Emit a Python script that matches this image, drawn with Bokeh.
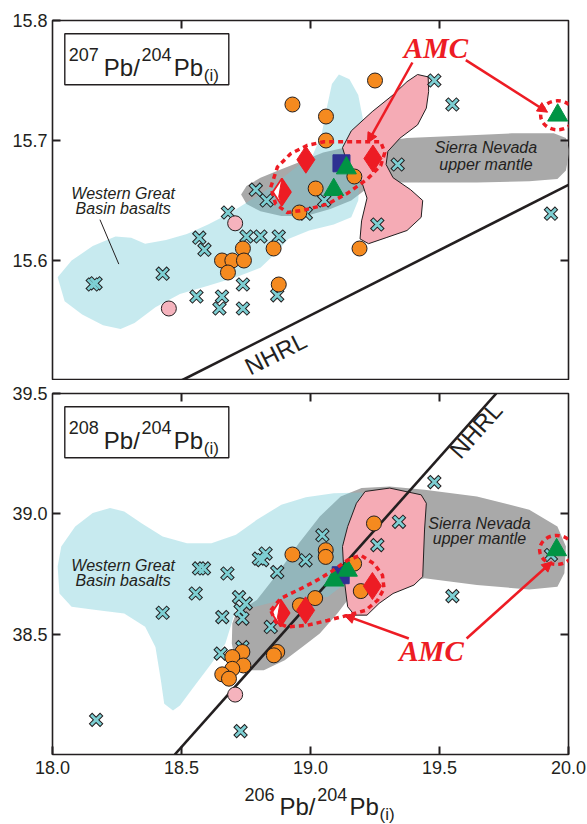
import math
from bokeh.plotting import figure
from bokeh.layouts import column
from bokeh.models import (Label, Arrow, NormalHead, BoxAnnotation, FixedTicker,
                          LinearAxis, NumeralTickFormatter, Range1d)
from bokeh.embed import file_html
from bokeh.resources import INLINE

# ------------------------------------------------------------------ data
x_ticks = [18.0, 18.5, 19.0, 19.5, 20.0]
top_y_ticks = [15.6, 15.7, 15.8]
bot_y_ticks = [38.5, 39.0, 39.5]

# ---- 207Pb/204Pb panel
top_circ_x = [19.25, 18.93, 19.06, 19.06, 19.17, 19.02, 18.957, 19.19, 18.738, 18.857, 18.657, 18.697, 18.742, 18.68, 18.877]
top_circ_y = [15.750, 15.730, 15.720, 15.700, 15.670, 15.660, 15.640, 15.610, 15.610, 15.610, 15.600, 15.600, 15.600, 15.590, 15.580]
top_pink_x = [18.708, 18.451]
top_pink_y = [15.631, 15.560]
top_cross_x = [19.48, 19.55, 19.338, 18.788, 18.83, 19.053, 18.982, 18.68, 19.259, 18.569, 18.589, 18.752,
               18.806, 18.877, 18.156, 18.167, 18.427, 18.558, 18.657, 18.647, 18.738, 18.738, 18.871, 19.932]
top_cross_y = [15.750, 15.730, 15.680, 15.659, 15.650, 15.650, 15.639, 15.640, 15.630, 15.619, 15.609, 15.620,
               15.620, 15.620, 15.580, 15.581, 15.589, 15.570, 15.570, 15.560, 15.580, 15.560, 15.571, 15.639]
top_dia_x = [18.982, 19.242]
top_dia_y = [15.684, 15.685]
top_half_x = [18.889]
top_half_y = [15.657]
top_sq_x = [19.12]
top_sq_y = [15.681]
top_tri_x = [19.139, 19.09, 19.958]
top_tri_y = [15.677, 15.659, 15.721]

top_wgb_x = [18.020, 18.074, 18.156, 18.244, 18.305, 18.359, 18.440, 18.521, 18.603, 18.684, 18.765, 18.846, 18.928,
             19.009, 19.043, 19.063, 19.083, 19.110, 19.151, 19.185, 19.205, 19.205, 19.192, 19.185, 19.158, 19.090,
             18.995, 18.914, 18.860, 18.806, 18.711, 18.603, 18.494, 18.399, 18.318, 18.264, 18.196, 18.115, 18.047]
top_wgb_y = [15.586, 15.600, 15.612, 15.620, 15.619, 15.614, 15.617, 15.622, 15.630, 15.639, 15.650, 15.661, 15.675,
             15.688, 15.705, 15.727, 15.747, 15.755, 15.751, 15.738, 15.716, 15.694, 15.672, 15.650, 15.636, 15.630,
             15.625, 15.618, 15.605, 15.594, 15.586, 15.579, 15.572, 15.561, 15.548, 15.543, 15.546, 15.555, 15.566]
top_snm_x = [18.731, 18.752, 18.806, 18.887, 18.968, 19.049, 19.131, 19.239, 19.374, 19.578, 19.781, 19.943, 19.990,
             20.004, 19.990, 19.957, 19.848, 19.645, 19.442, 19.347, 19.293, 19.225, 19.158, 19.077, 18.982, 18.887,
             18.806, 18.752]
top_snm_y = [15.655, 15.662, 15.669, 15.676, 15.683, 15.690, 15.694, 15.698, 15.702, 15.704, 15.706, 15.706, 15.702,
             15.691, 15.675, 15.668, 15.666, 15.665, 15.665, 15.665, 15.666, 15.661, 15.650, 15.643, 15.637, 15.637,
             15.641, 15.647]
top_pinkfield_x = [19.415, 19.456, 19.458, 19.449, 19.415, 19.347, 19.300, 19.293, 19.320, 19.388, 19.435, 19.429,
                   19.374, 19.293, 19.225, 19.192, 19.198, 19.219, 19.198, 19.144, 19.124, 19.158, 19.239, 19.320, 19.374]
top_pinkfield_y = [15.755, 15.753, 15.741, 15.727, 15.713, 15.702, 15.691, 15.680, 15.669, 15.659, 15.650, 15.636,
                   15.625, 15.619, 15.614, 15.618, 15.633, 15.652, 15.666, 15.680, 15.694, 15.708, 15.724, 15.738, 15.749]
top_amc_x = [18.846, 18.872, 18.923, 18.988, 19.052, 19.272, 19.288, 19.272, 19.221, 19.143, 19.066, 18.975, 18.910, 18.865]
top_amc_y = [15.661, 15.678, 15.689, 15.696, 15.699, 15.699, 15.690, 15.679, 15.668, 15.656, 15.647, 15.642, 15.640, 15.647]
top_nhrl_x = [18.5, 20.0]
top_nhrl_y = [15.5, 15.663]
top_leader_x = [18.184, 18.257]
top_leader_y = [15.634, 15.597]
top_arrow_x0 = [19.395, 19.602]
top_arrow_y0 = [15.765, 15.767]
top_arrow_x1 = [19.221, 19.919]
top_arrow_y1 = [15.698, 15.7236]

# ---- 208Pb/204Pb panel
bot_circ_x = [19.246, 18.930, 19.059, 19.059, 19.169, 19.195, 19.018, 18.959, 18.871, 18.858, 18.736, 18.697, 18.740,
              18.697, 18.658, 18.684]
bot_circ_y = [38.960, 38.831, 38.849, 38.821, 38.793, 38.679, 38.650, 38.620, 38.426, 38.412, 38.426, 38.405, 38.370,
              38.356, 38.333, 38.315]
bot_pink_x = [18.708]
bot_pink_y = [38.249]
bot_cross_x = [18.169, 18.729, 18.427, 18.555, 18.568, 18.587, 18.678, 18.723, 18.749, 18.729, 18.736, 18.658, 18.652,
               18.736, 18.800, 18.826, 18.813, 18.871, 18.981, 19.046, 18.846, 19.259, 19.343, 19.480, 19.550, 19.932]
bot_cross_y = [38.144, 38.097, 38.589, 38.669, 38.773, 38.773, 38.752, 38.654, 38.627, 38.599, 38.565, 38.571, 38.419,
               38.446, 38.814, 38.835, 38.808, 38.758, 38.807, 38.911, 38.530, 38.870, 38.967, 39.132, 38.658, 38.829]
bot_dia_x = [18.981, 19.240]
bot_dia_y = [38.599, 38.700]
bot_half_x = [18.884]
bot_half_y = [38.588]
bot_sq_x = [19.117]
bot_sq_y = [38.745]
bot_tri_x = [19.091, 19.143, 19.954]
bot_tri_y = [38.724, 38.765, 38.850]

bot_wgb_x = [18.020, 18.034, 18.088, 18.156, 18.223, 18.278, 18.345, 18.427, 18.521, 18.616, 18.711, 18.792, 18.887,
             18.982, 19.090, 19.198, 19.253, 19.225, 19.117, 19.066, 18.988, 18.884, 18.794, 18.710, 18.670, 18.616,
             18.548, 18.494, 18.467, 18.433, 18.420, 18.399, 18.359, 18.278, 18.169, 18.074, 18.027]
bot_wgb_y = [38.781, 38.864, 38.947, 39.003, 39.024, 39.010, 38.961, 38.906, 38.878, 38.878, 38.913, 38.975, 39.038,
             39.069, 39.086, 39.089, 39.003, 38.725, 38.696, 38.654, 38.654, 38.641, 38.616, 38.599, 38.461, 38.378,
             38.281, 38.204, 38.183, 38.211, 38.308, 38.447, 38.531, 38.586, 38.600, 38.614, 38.669]
bot_snm_x = [18.711, 18.792, 18.873, 18.955, 19.036, 19.117, 19.198, 19.307, 19.442, 19.645, 19.848, 19.957, 19.990,
             19.984, 19.957, 19.848, 19.645, 19.442, 19.307, 19.144, 19.104, 19.036, 18.968, 18.900, 18.819, 18.752,
             18.708, 18.695, 18.697]
bot_snm_y = [38.586, 38.642, 38.753, 38.878, 38.989, 39.072, 39.107, 39.114, 39.100, 39.072, 39.017, 38.947, 38.864,
             38.753, 38.697, 38.686, 38.704, 38.732, 38.697, 38.642, 38.586, 38.503, 38.447, 38.392, 38.350, 38.350,
             38.385, 38.461, 38.544]
bot_pinkfield_x = [19.212, 19.307, 19.429, 19.449, 19.442, 19.435, 19.401, 19.320, 19.266, 19.219, 19.171, 19.144,
                   19.131, 19.124, 19.144, 19.178]
bot_pinkfield_y = [39.093, 39.107, 39.079, 39.044, 38.933, 38.739, 38.704, 38.669, 38.628, 38.579, 38.579, 38.614,
                   38.725, 38.864, 38.947, 39.044]
bot_amc_x = [18.846, 18.884, 18.949, 19.014, 19.078, 19.143, 19.195, 19.246, 19.279, 19.285, 19.260, 19.214, 19.143,
             19.066, 18.988, 18.910, 18.865]
bot_amc_y = [38.599, 38.648, 38.682, 38.717, 38.758, 38.807, 38.828, 38.793, 38.745, 38.689, 38.641, 38.599, 38.578,
             38.557, 38.537, 38.530, 38.550]
bot_nhrl_x = [18.474, 19.72]
bot_nhrl_y = [38.0, 39.5]
bot_arrow_x0 = [19.381, 19.605]
bot_arrow_y0 = [38.482, 38.482]
bot_arrow_x1 = [19.131, 19.936]
bot_arrow_y1 = [38.579, 38.801]

# ------------------------------------------------------------------ style
INK = "#231f20"
SANS = "Liberation Sans"
SERIF = "Liberation Serif"
CYAN_FILL = "#74cbd6"
GRAY_FILL = "#a9a9a9"
PINK_FILL = "#f5abb5"
ORANGE = "#f58a1f"
PINK_PT = "#f5b3bd"
CROSS = "#7dcfd3"
RED = "#ed1c24"
GREEN = "#009444"
NAVY = "#2e3192"
FW = 516


def make_fig(yr, fh, bt, bb, outline=True):
    p = figure(x_range=Range1d(18.0, 20.0), y_range=Range1d(*yr), frame_width=FW, frame_height=fh,
               min_border_left=52, min_border_right=18, min_border_top=bt, min_border_bottom=bb,
               x_axis_location=None, y_axis_location=None, output_backend="svg",
               toolbar_location=None, border_fill_color="white", background_fill_color="white")
    p.grid.visible = False
    if outline:
        p.outline_line_color = INK
        p.outline_line_width = 1.6
        p.outline_line_alpha = 1.0
    else:
        p.outline_line_color = None
    return p


def add_axis(p, side, ticks, show_labels):
    ax = LinearAxis(ticker=FixedTicker(ticks=ticks, minor_ticks=[]),
                    formatter=NumeralTickFormatter(format="0.0"))
    ax.axis_line_color = None
    ax.major_tick_in = 8
    ax.major_tick_out = 0
    ax.major_tick_line_color = INK
    ax.major_tick_line_width = 2
    ax.minor_tick_line_color = None
    if show_labels:
        ax.major_label_text_font = SANS
        ax.major_label_text_font_size = "18px"
        ax.major_label_text_color = INK
        ax.major_label_standoff = 5 if side == "left" else 6
    else:
        ax.major_label_text_font_size = "0px"
        ax.major_label_text_alpha = 0
        ax.major_label_standoff = 0
    p.add_layout(ax, side)


def txt(p, x, y, text, size, font=SANS, style="normal", color=INK, align="left",
        baseline="alphabetic", dx=0, dy=0, angle=0.0):
    p.add_layout(Label(x=x, y=y, text=text, text_font=font, text_font_size=f"{size}px",
                       text_font_style=style, text_color=color, text_align=align,
                       text_baseline=baseline, x_offset=dx, y_offset=dy, angle=angle))


def formula(p, x, y, sup1, sup2, dx0, base, sub_drop=8.6):
    # pieces placed in screen pixels (base = distance of the main baseline below the anchor)
    pieces = [(sup1, 18, 0, base - 12.4), ("Pb/", 24, 35, base), (sup2, 18, 72.7, base - 12.4),
              ("Pb", 24, 105, base), ("(i)", 17, 135, base + sub_drop)]
    for t, s, ox, b in pieces:
        txt(p, x, y, t, s, dx=dx0 + ox, dy=-b)


def draw_panel(p, sxp, syp, wgb, snm, pinkf, amc, nhrl, circ, pink, cross, dia, half, sq, tri, arrows):
    # fields
    p.patch(snm[0], snm[1], fill_color=GRAY_FILL, line_color=None)
    p.patch(wgb[0], wgb[1], fill_color=CYAN_FILL, fill_alpha=0.4, line_color=None)
    p.patch(pinkf[0], pinkf[1], fill_color=PINK_FILL, line_color=INK, line_width=1)
    # NHRL
    p.line(nhrl[0], nhrl[1], line_color=INK, line_width=2.6)
    # data points
    p.scatter(cross[0], cross[1], marker="x", size=16, line_color=INK, line_width=4.8)
    p.scatter(cross[0], cross[1], marker="x", size=14, line_color=CROSS, line_width=2.8)
    p.scatter(circ[0], circ[1], marker="circle", size=15, fill_color=ORANGE, line_color=INK, line_width=1)
    p.scatter(pink[0], pink[1], marker="circle", size=15, fill_color=PINK_PT, line_color=INK, line_width=1)
    p.scatter(sq[0], sq[1], marker="square", size=17, fill_color=NAVY, line_color=NAVY)
    p.scatter(tri[0], tri[1], marker="triangle", size=20, fill_color=GREEN, line_color=GREEN)
    p.scatter(dia[0], dia[1], marker="diamond", size=27, fill_color=RED, line_color=RED)
    # half-filled diamond built around its data point
    hw, hh = 9.0 / sxp, 13.5 / syp
    for cx, cy in zip(half[0], half[1]):
        p.patch([cx - hw, cx, cx + hw, cx], [cy, cy + hh, cy, cy - hh], fill_color="white",
                line_color=RED, line_width=1.8)
        p.patch([cx, cx + hw, cx, cx - hw * 0.35], [cy + hh, cy, cy - hh, cy - hh * 0.35],
                fill_color=RED, line_color=RED, line_width=1)
    # AMC dotted outlines
    p.patch(amc[0], amc[1], fill_alpha=0, line_color=RED, line_width=3.5, line_dash="5 4")
    p.ellipse(tri[0][-1:], tri[1][-1:], width=34, height=29, width_units="screen", height_units="screen",
              fill_alpha=0, line_color=RED, line_width=3.5, line_dash="5 4")
    # arrows
    for x0, y0, x1, y1 in zip(*arrows):
        p.add_layout(Arrow(x_start=x0, y_start=y0, x_end=x1, y_end=y1, line_color=RED, line_width=2.5,
                           end=NormalHead(size=10, fill_color=RED, line_color=RED, line_width=1)))


def label_box(p, x0, y1, sxp, syp):
    p.add_layout(BoxAnnotation(left=x0 + 12.3 / sxp, right=x0 + 176.3 / sxp,
                               top=y1 - 13.3 / syp, bottom=y1 - 64.3 / syp,
                               fill_color="white", fill_alpha=1, line_color=INK, line_alpha=1,
                               line_width=1.4))


# ------------------------------------------------------------------ top panel
TOP_FH = 360
top = make_fig((15.5, 15.8), TOP_FH, 20, 0)
sx_t = FW / 2.0
sy_t = TOP_FH / 0.3
add_axis(top, "left", top_y_ticks, True)
add_axis(top, "above", x_ticks[1:-1], False)
add_axis(top, "right", top_y_ticks[:-1], False)
draw_panel(top, sx_t, sy_t, (top_wgb_x, top_wgb_y), (top_snm_x, top_snm_y),
           (top_pinkfield_x, top_pinkfield_y), (top_amc_x, top_amc_y), (top_nhrl_x, top_nhrl_y),
           (top_circ_x, top_circ_y), (top_pink_x, top_pink_y), (top_cross_x, top_cross_y),
           (top_dia_x, top_dia_y), (top_half_x, top_half_y), (top_sq_x, top_sq_y), (top_tri_x, top_tri_y),
           (top_arrow_x0, top_arrow_y0, top_arrow_x1, top_arrow_y1))
top.line(top_leader_x, top_leader_y, line_color=INK, line_width=1)

label_box(top, 18.0, 15.8, sx_t, sy_t)
formula(top, 18.0, 15.8, "207", "204", 16.3, 34.3 + 12.4)
txt(top, 18.274, 15.656, "Western Great", 16, style="italic", align="center", baseline="middle")
txt(top, 18.274, 15.643, "Basin basalts", 16, style="italic", align="center", baseline="middle")
txt(top, 19.680, 15.694, "Sierra Nevada", 16, style="italic", align="center", baseline="middle")
txt(top, 19.680, 15.680, "upper mantle", 16, style="italic", align="center", baseline="middle")
ang_t = math.atan2((top_nhrl_y[1] - top_nhrl_y[0]) * sy_t, (top_nhrl_x[1] - top_nhrl_x[0]) * sx_t)
txt(top, 18.865, 15.5225, "NHRL", 24, align="center", baseline="middle", angle=ang_t)
txt(top, 19.486, 15.777, "AMC", 29, font=SERIF, style="bold italic", color=RED, align="center",
    baseline="middle")

# ------------------------------------------------------------------ bottom panel
BOT_FH = 361
bot = make_fig((38.0, 39.5), BOT_FH, 13, 30)
sx_b = FW / 2.0
sy_b = BOT_FH / 1.5
add_axis(bot, "left", bot_y_ticks, True)
add_axis(bot, "below", x_ticks, True)
add_axis(bot, "above", x_ticks[1:-1], False)
add_axis(bot, "right", bot_y_ticks[:-1], False)
draw_panel(bot, sx_b, sy_b, (bot_wgb_x, bot_wgb_y), (bot_snm_x, bot_snm_y),
           (bot_pinkfield_x, bot_pinkfield_y), (bot_amc_x, bot_amc_y), (bot_nhrl_x, bot_nhrl_y),
           (bot_circ_x, bot_circ_y), (bot_pink_x, bot_pink_y), (bot_cross_x, bot_cross_y),
           (bot_dia_x, bot_dia_y), (bot_half_x, bot_half_y), (bot_sq_x, bot_sq_y), (bot_tri_x, bot_tri_y),
           (bot_arrow_x0, bot_arrow_y0, bot_arrow_x1, bot_arrow_y1))

label_box(bot, 18.0, 39.5, sx_b, sy_b)
formula(bot, 18.0, 39.5, "208", "204", 16.3, 34.3 + 12.4)
txt(bot, 18.274, 38.787, "Western Great", 16, style="italic", align="center", baseline="middle")
txt(bot, 18.274, 38.721, "Basin basalts", 16, style="italic", align="center", baseline="middle")
txt(bot, 19.655, 38.961, "Sierra Nevada", 16, style="italic", align="center", baseline="middle")
txt(bot, 19.655, 38.896, "upper mantle", 16, style="italic", align="center", baseline="middle")
ang_b = math.atan2((bot_nhrl_y[1] - bot_nhrl_y[0]) * sy_b, (bot_nhrl_x[1] - bot_nhrl_x[0]) * sx_b)
txt(bot, 19.641, 39.348, "NHRL", 24, align="center", baseline="middle", angle=ang_b)
txt(bot, 19.469, 38.431, "AMC", 29, font=SERIF, style="bold italic", color=RED, align="center",
    baseline="middle")

# ------------------------------------------------------------------ x-axis title strip
ttl = make_fig((0.0, 1.0), 40, 0, 0, outline=False)
formula(ttl, 18.0, 1.0, "206", "204", 192, 22, sub_drop=7.5)

layout = column(top, bot, ttl, spacing=0)
open("out.html", "w").write(file_html(layout, INLINE))
